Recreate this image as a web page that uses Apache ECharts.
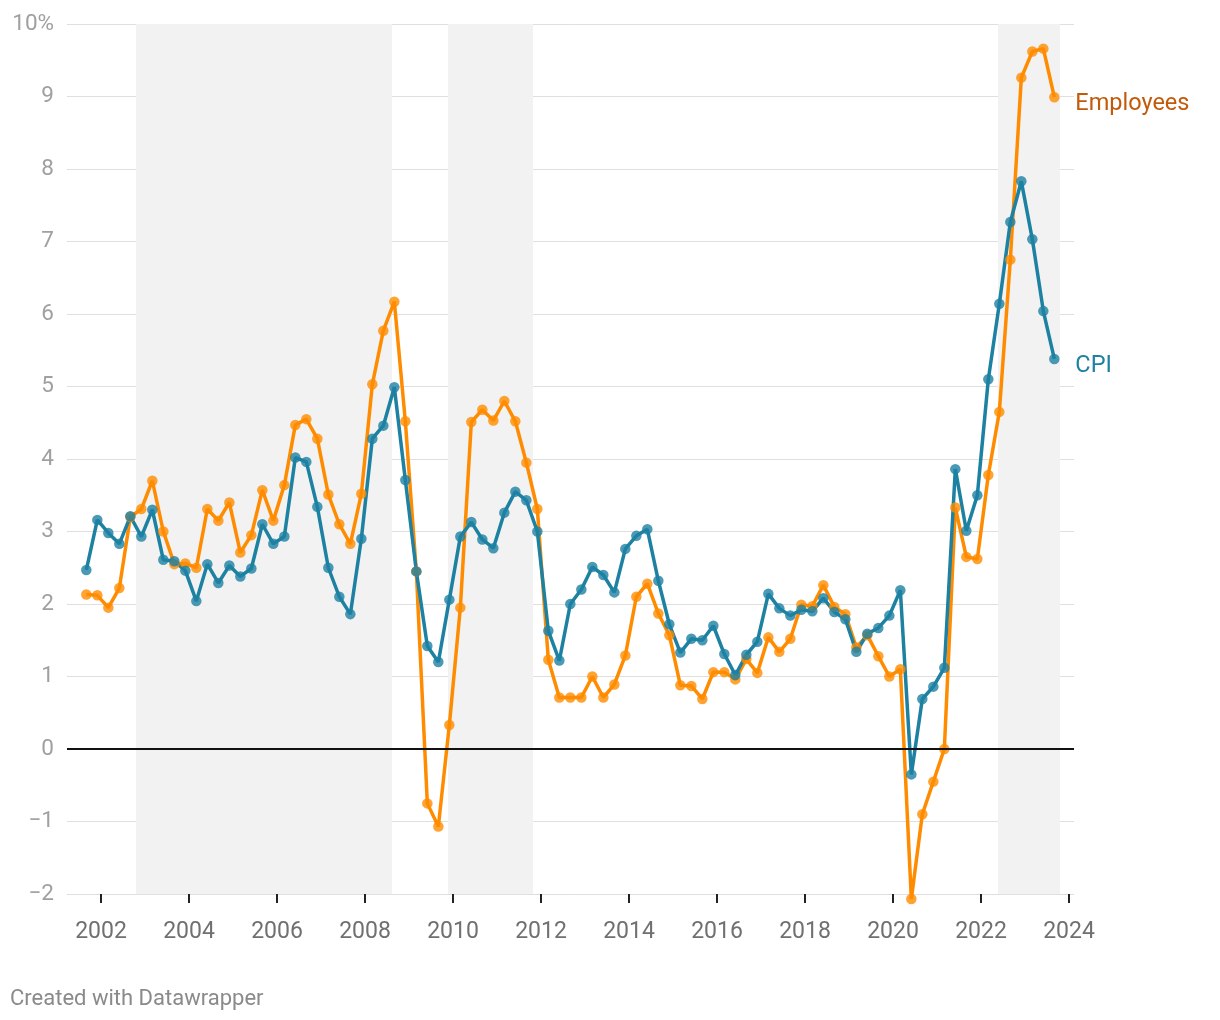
<!DOCTYPE html>
<html>
<head>
<meta charset="utf-8">
<script src="https://cdn.jsdelivr.net/npm/echarts@6/dist/echarts.min.js"></script>
<style>
html,body{margin:0;padding:0;background:#fff;}
#chart{width:1220px;height:1020px;}
</style>
</head>
<body>
<div id="chart"></div>
<script>
const dates = ["2001-09","2001-12",
"2002-03","2002-06","2002-09","2002-12",
"2003-03","2003-06","2003-09","2003-12",
"2004-03","2004-06","2004-09","2004-12",
"2005-03","2005-06","2005-09","2005-12",
"2006-03","2006-06","2006-09","2006-12",
"2007-03","2007-06","2007-09","2007-12",
"2008-03","2008-06","2008-09","2008-12",
"2009-03","2009-06","2009-09","2009-12",
"2010-03","2010-06","2010-09","2010-12",
"2011-03","2011-06","2011-09","2011-12",
"2012-03","2012-06","2012-09","2012-12",
"2013-03","2013-06","2013-09","2013-12",
"2014-03","2014-06","2014-09","2014-12",
"2015-03","2015-06","2015-09","2015-12",
"2016-03","2016-06","2016-09","2016-12",
"2017-03","2017-06","2017-09","2017-12",
"2018-03","2018-06","2018-09","2018-12",
"2019-03","2019-06","2019-09","2019-12",
"2020-03","2020-06","2020-09","2020-12",
"2021-03","2021-06","2021-09","2021-12",
"2022-03","2022-06","2022-09","2022-12",
"2023-03","2023-06","2023-09"];

const cpi = [2.47,3.16,
2.98,2.83,3.21,2.93,
3.30,2.61,2.59,2.46,
2.04,2.55,2.29,2.53,
2.38,2.49,3.10,2.83,
2.93,4.02,3.96,3.34,
2.50,2.10,1.86,2.90,
4.28,4.46,4.99,3.71,
2.45,1.42,1.20,2.06,
2.93,3.13,2.89,2.77,
3.26,3.55,3.43,3.00,
1.63,1.22,2.00,2.20,
2.51,2.40,2.16,2.76,
2.94,3.03,2.32,1.72,
1.33,1.52,1.50,1.70,
1.31,1.02,1.30,1.48,
2.14,1.94,1.84,1.92,
1.90,2.08,1.89,1.79,
1.34,1.59,1.67,1.84,
2.19,-0.35,0.69,0.86,
1.12,3.86,3.01,3.50,
5.10,6.14,7.27,7.83,
7.03,6.04,5.38];

const employees = [2.13,2.12,
1.95,2.22,3.20,3.31,
3.70,3.00,2.55,2.56,
2.50,3.31,3.15,3.40,
2.71,2.95,3.57,3.15,
3.64,4.47,4.55,4.28,
3.51,3.10,2.83,3.52,
5.03,5.77,6.17,4.52,
2.45,-0.75,-1.07,0.33,
1.95,4.51,4.68,4.53,
4.80,4.52,3.95,3.31,
1.23,0.71,0.71,0.71,
1.00,0.71,0.89,1.29,
2.10,2.28,1.87,1.57,
0.88,0.87,0.69,1.06,
1.06,0.96,1.24,1.05,
1.54,1.34,1.52,1.99,
1.97,2.26,1.96,1.86,
1.40,1.57,1.28,1.00,
1.10,-2.07,-0.90,-0.45,
0.00,3.33,2.65,2.62,
3.78,4.65,6.75,9.26,
9.62,9.66,8.99];

const shadedPeriods = [[2002.795, 2008.614],[2009.886, 2011.818],[2022.386, 2023.795]];
const xTicks = [2002,2004,2006,2008,2010,2012,2014,2016,2018,2020,2022,2024];
const yTicks = [-2,-1,0,1,2,3,4,5,6,7,8,9,10];
const yTickLabels = ["\u22122","\u22121","0","1","2","3","4","5","6","7","8","9","10%"];

const seriesNames = ["Employees","CPI"];
const COL_EMP = "#ff8c00";
const COL_CPI = "#1d81a2";

function toYear(d){ const p=d.split("-"); return +p[0] + (+p[1]-1)/12; }
const xs = dates.map(toYear);
const empData = xs.map((x,i)=>[x, employees[i]]);
const cpiData = xs.map((x,i)=>[x, cpi[i]]);

const chart = echarts.init(document.getElementById("chart"), null, {renderer:"canvas"});
const FONT = "Roboto, 'Noto Sans', sans-serif";

chart.setOption({
  animation:false,
  backgroundColor:"#ffffff",
  textStyle:{fontFamily:FONT},
  grid:{left:67, right:146, top:24, bottom:126, containLabel:false},
  xAxis:{
    type:"value",
    min:2001.2273, max:2024.1136,
    axisLine:{show:false, onZero:false},
    splitLine:{show:false},
    axisTick:{show:true, customValues:xTicks, length:9, lineStyle:{color:"#222", width:2}},
    axisLabel:{customValues:xTicks, color:"#707070", fontSize:23, margin:27, fontFamily:FONT,
      formatter:v=>String(v)}
  },
  yAxis:{
    type:"value",
    min:-2, max:10, interval:1,
    axisLine:{show:false},
    axisTick:{show:false},
    splitLine:{show:true, lineStyle:{color:"#dfdfdf", width:1}},
    axisLabel:{color:"#a0a0a0", fontSize:22.5, margin:13, fontFamily:FONT,
      formatter:v=>{const i=yTicks.indexOf(v); return i>=0?yTickLabels[i]:"";}}
  },
  graphic:[{type:"text", left:10, top:988, style:{text:"Created with Datawrapper", fill:"#8a8a8a", font:"22px "+FONT}}],
  series:[
    {
      name:seriesNames[0], type:"line", data:empData, showSymbol:false, clip:false, z:2,
      lineStyle:{color:COL_EMP, width:3.5}, itemStyle:{color:COL_EMP},
      endLabel:{show:true, formatter:"{a}", color:"#c25a0a", fontSize:23.5, fontFamily:FONT, distance:21, offset:[0,7]},
      markArea:{silent:true, itemStyle:{color:"#f2f2f2"},
        data:shadedPeriods.map(p=>[{xAxis:p[0]},{xAxis:p[1]}])},
      markLine:{silent:true, symbol:["none","none"], label:{show:false},
        lineStyle:{color:"#111", width:2, type:"solid"}, data:[{yAxis:0}]}
    },
    {
      name:seriesNames[1], type:"line", data:cpiData, showSymbol:false, clip:false, z:3,
      lineStyle:{color:COL_CPI, width:3.5}, itemStyle:{color:COL_CPI},
      endLabel:{show:true, formatter:"{a}", color:COL_CPI, fontSize:23.5, fontFamily:FONT, distance:21, offset:[0,7]}
    },
    {
      name:seriesNames[0]+" points", type:"scatter", data:empData, symbol:"circle", symbolSize:10.5, clip:false, z:4,
      itemStyle:{color:COL_EMP}
    },
    {
      name:seriesNames[1]+" points", type:"scatter", data:cpiData, symbol:"circle", symbolSize:10.5, clip:false, z:5,
      itemStyle:{color:COL_CPI}
    }
  ]
});
</script>
</body>
</html>
